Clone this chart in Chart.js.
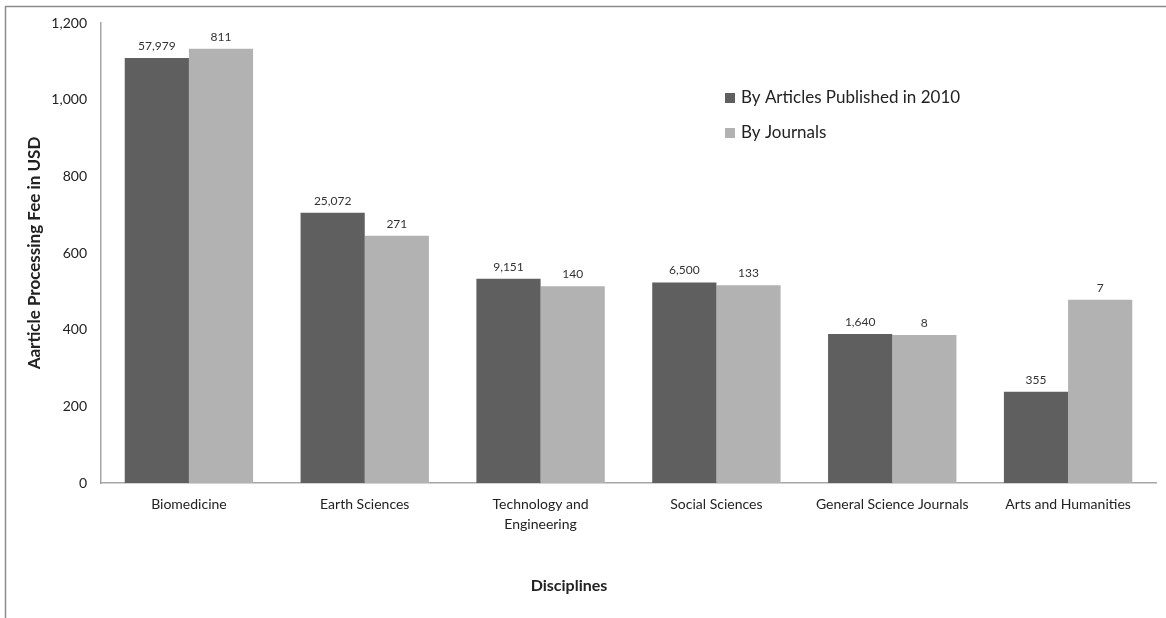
<!DOCTYPE html>
<html>
<head>
<meta charset="utf-8">
<script src="https://cdn.jsdelivr.net/npm/chart.js@4.4.1/dist/chart.umd.min.js"></script>
<style>
    html, body { margin: 0; padding: 0; background: #fff; }
    #wrap { position: relative; width: 1166px; height: 618px; }
</style>
</head>
<body>
<div id="wrap"><canvas id="chart1" width="1166" height="618"></canvas></div>
<script>
/* ---------------------------------------------------------------------------------------- */
/* DATA                                                                                     */
/* ---------------------------------------------------------------------------------------- */

    var disciplines   = ['Biomedicine', 'Earth Sciences', ['Technology and', 'Engineering'], 'Social Sciences', 'General Science Journals', 'Arts and Humanities'];
    var feeByArticles = [1109, 705, 533, 523, 389, 238];
    var feeByJournals = [1133, 645, 513, 516, 386, 478];
    var articleCounts = [57979, 25072, 9151, 6500, 1640, 355];
    var journalCounts = [811, 271, 140, 133, 8, 7];
    var yTicks        = [0, 200, 400, 600, 800, 1000, 1200];

    var FONT = 'Lato, "Open Sans", sans-serif';

/* ---------------------------------------------------------------------------------------- */
/* PLUGINS - frame, bar labels, legend, x title                                             */
/* ---------------------------------------------------------------------------------------- */

    var extras = {
        id: 'extras',
        beforeDraw: function(chart){
            var ctx = chart.ctx;
            ctx.save();
            ctx.strokeStyle = '#8c8c8c';
            ctx.lineWidth = 1.5;
            ctx.beginPath();
            ctx.moveTo(5.5, chart.height);
            ctx.lineTo(5.5, 6.5);
            ctx.lineTo(chart.width, 6.5);
            ctx.stroke();
            ctx.restore();
        },
        afterDatasetsDraw: function(chart){
            var ctx = chart.ctx;
            var counts = [articleCounts, journalCounts];
            ctx.save();
            ctx.font = '12px ' + FONT;
            ctx.fillStyle = '#333';
            ctx.textAlign = 'center';
            ctx.textBaseline = 'bottom';
            chart.data.datasets.forEach(function(ds, di){
                chart.getDatasetMeta(di).data.forEach(function(bar, i){
                    ctx.fillText(counts[di][i].toLocaleString('en-US'), bar.x, bar.y - 6);
                });
            });

            // legend
            ctx.font = '17px ' + FONT;
            ctx.textAlign = 'left';
            ctx.textBaseline = 'middle';
            chart.data.datasets.forEach(function(ds, di){
                var y = 98 + di * 35;
                ctx.fillStyle = ds.backgroundColor;
                ctx.fillRect(725, y - 5, 10, 10);
                ctx.fillStyle = '#222';
                ctx.fillText(ds.label, 741, y);
            });

            // x axis title
            ctx.font = 'bold 16px ' + FONT;
            ctx.textAlign = 'center';
            ctx.fillStyle = '#222';
            ctx.fillText('Disciplines', 569, 586);
            ctx.restore();
        }
    };

/* ---------------------------------------------------------------------------------------- */
/* CHART                                                                                    */
/* ---------------------------------------------------------------------------------------- */

    var ctx = document.getElementById('chart1').getContext('2d');
    var chart1 = new Chart(ctx, {
        type: 'bar',
        data: {
            labels: disciplines,
            datasets: [{
                label: 'By Articles Published in 2010',
                backgroundColor: '#5f5f5f',
                data: feeByArticles,
                categoryPercentage: 0.73,
                barPercentage: 1.0
            },{
                label: 'By Journals',
                backgroundColor: '#b2b2b2',
                data: feeByJournals,
                categoryPercentage: 0.73,
                barPercentage: 1.0
            }]
        },
        options: {
            responsive: false,
            animation: false,
            layout: { padding: { left: 20, top: 23, right: 10, bottom: 0 } },
            plugins: {
                legend: { display: false },
                tooltip: { enabled: false }
            },
            scales: {
                x: {
                    grid: { display: false },
                    border: { display: true, color: '#a6a6a6', width: 1.5 },
                    ticks: {
                        color: '#222',
                        font: { family: FONT, size: 14, lineHeight: 1.45 },
                        maxRotation: 0,
                        autoSkip: false,
                        padding: 3
                    },
                    afterFit: function(s){ s.height = 135; }
                },
                y: {
                    min: 0,
                    max: 1200,
                    afterBuildTicks: function(s){ s.ticks = yTicks.map(function(v){ return { value: v }; }); },
                    grid: { display: false, drawTicks: false },
                    border: { display: true, color: '#a6a6a6', width: 1.5 },
                    ticks: {
                        color: '#222',
                        font: { family: FONT, size: 14 },
                        padding: 14,
                        callback: function(v){ return v.toLocaleString('en-US'); }
                    },
                    title: {
                        display: true,
                        text: 'Aarticle Processing Fee in USD',
                        color: '#222',
                        font: { family: FONT, size: 17, weight: 'bold' },
                        padding: { top: 4, bottom: 0 }
                    },
                    afterFit: function(s){ s.width = 81; }
                }
            }
        },
        plugins: [extras]
    });
</script>
</body>
</html>
